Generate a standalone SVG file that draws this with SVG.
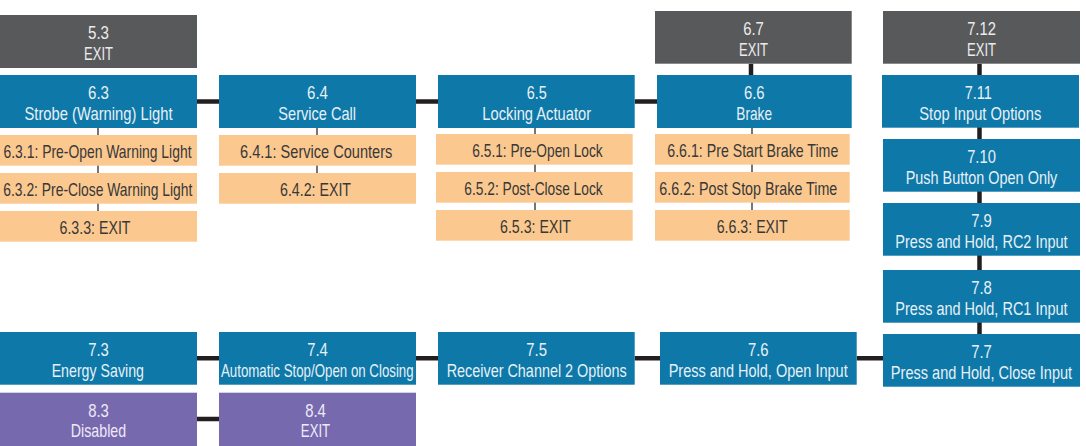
<svg xmlns="http://www.w3.org/2000/svg" width="1086" height="446" viewBox="0 0 1086 446">
<style>
.g{fill:#58595b}.b{fill:#0e78a8}.p{fill:#fbc98f}.v{fill:#7769ae}
text{font-family:"Liberation Sans",Arial,sans-serif;font-size:19px;text-anchor:middle}
.tg{fill:#ececec}.tb{fill:#e6f1f7}.tp{fill:#383838}.tv{fill:#efeaf6}
.k{stroke:#231f20;stroke-width:4.5;fill:none}
.t{stroke:#4a4a4a;stroke-width:1.5;fill:none}
</style>
<rect width="1086" height="446" fill="#ffffff"/>
<g id="connectors">
<path class="k" d="M197 101.5H219M416 101.5H438M634.7 101.5H657M751 63.7V75"/>
<path class="k" d="M979.5 63.7V334M856.7 358.3H883M634.7 358.3H660M416 358.3H438M197 358.3H219M197 419H219"/>
<path class="t" d="M98 128V211M317 128V173M535 128V210M752 128V210"/>
</g>
<g id="n5_3"><rect class="g" x="0" y="15" width="197" height="53"/><text class="tg" x="98.5" y="39" textLength="21" lengthAdjust="spacingAndGlyphs">5.3</text><text class="tg" x="98.5" y="60" textLength="29" lengthAdjust="spacingAndGlyphs">EXIT</text></g>
<g id="n6_3"><rect class="b" x="0" y="75" width="197" height="53"/><text class="tb" x="98.5" y="99" textLength="21" lengthAdjust="spacingAndGlyphs">6.3</text><text class="tb" x="98.5" y="119.5" textLength="148" lengthAdjust="spacingAndGlyphs">Strobe (Warning) Light</text></g>
<g id="n6_3_1"><rect class="p" x="0" y="135" width="197" height="30.7"/><text class="tp" x="97.5" y="157.7" textLength="188" lengthAdjust="spacingAndGlyphs">6.3.1: Pre-Open Warning Light</text></g>
<g id="n6_3_2"><rect class="p" x="0" y="173" width="197" height="30.7"/><text class="tp" x="97.8" y="195.7" textLength="189" lengthAdjust="spacingAndGlyphs">6.3.2: Pre-Close Warning Light</text></g>
<g id="n6_3_3"><rect class="p" x="0" y="211" width="197" height="30.7"/><text class="tp" x="95" y="233.7" textLength="71" lengthAdjust="spacingAndGlyphs">6.3.3: EXIT</text></g>
<g id="n6_4"><rect class="b" x="219" y="75" width="197" height="53"/><text class="tb" x="317.5" y="99" textLength="21" lengthAdjust="spacingAndGlyphs">6.4</text><text class="tb" x="317.2" y="119.5" textLength="77.7" lengthAdjust="spacingAndGlyphs">Service Call</text></g>
<g id="n6_4_1"><rect class="p" x="219" y="135" width="197" height="30.7"/><text class="tp" x="316.2" y="157.7" textLength="152.3" lengthAdjust="spacingAndGlyphs">6.4.1: Service Counters</text></g>
<g id="n6_4_2"><rect class="p" x="219" y="173" width="197" height="30.7"/><text class="tp" x="315.5" y="195.7" textLength="71" lengthAdjust="spacingAndGlyphs">6.4.2: EXIT</text></g>
<g id="n6_5"><rect class="b" x="438" y="75" width="196.7" height="53"/><text class="tb" x="536.7" y="99" textLength="20" lengthAdjust="spacingAndGlyphs">6.5</text><text class="tb" x="536.7" y="119.5" textLength="108.7" lengthAdjust="spacingAndGlyphs">Locking Actuator</text></g>
<g id="n6_5_1"><rect class="p" x="436" y="134" width="196.7" height="30.7"/><text class="tp" x="537.5" y="157" textLength="130.3" lengthAdjust="spacingAndGlyphs">6.5.1: Pre-Open Lock</text></g>
<g id="n6_5_2"><rect class="p" x="436" y="172" width="196.7" height="30.7"/><text class="tp" x="533.5" y="195" textLength="138.3" lengthAdjust="spacingAndGlyphs">6.5.2: Post-Close Lock</text></g>
<g id="n6_5_3"><rect class="p" x="436" y="210" width="196.7" height="30.7"/><text class="tp" x="535.5" y="233" textLength="71" lengthAdjust="spacingAndGlyphs">6.5.3: EXIT</text></g>
<g id="n6_7"><rect class="g" x="655" y="11" width="196.7" height="52.7"/><text class="tg" x="753.5" y="35" textLength="20.7" lengthAdjust="spacingAndGlyphs">6.7</text><text class="tg" x="753.5" y="56" textLength="29" lengthAdjust="spacingAndGlyphs">EXIT</text></g>
<g id="n6_6"><rect class="b" x="657" y="75" width="194.7" height="53"/><text class="tb" x="754.3" y="99" textLength="20.7" lengthAdjust="spacingAndGlyphs">6.6</text><text class="tb" x="754.2" y="119.5" textLength="35.7" lengthAdjust="spacingAndGlyphs">Brake</text></g>
<g id="n6_6_1"><rect class="p" x="655" y="134" width="194.7" height="30.7"/><text class="tp" x="752.8" y="157" textLength="171" lengthAdjust="spacingAndGlyphs">6.6.1: Pre Start Brake Time</text></g>
<g id="n6_6_2"><rect class="p" x="655" y="172" width="194.7" height="30.7"/><text class="tp" x="748.3" y="195" textLength="178" lengthAdjust="spacingAndGlyphs">6.6.2: Post Stop Brake Time</text></g>
<g id="n6_6_3"><rect class="p" x="655" y="210" width="194.7" height="30.7"/><text class="tp" x="752.2" y="233" textLength="71" lengthAdjust="spacingAndGlyphs">6.6.3: EXIT</text></g>
<g id="n7_12"><rect class="g" x="883" y="11" width="197" height="52.7"/><text class="tg" x="981.5" y="35" textLength="28.7" lengthAdjust="spacingAndGlyphs">7.12</text><text class="tg" x="981.5" y="56" textLength="29" lengthAdjust="spacingAndGlyphs">EXIT</text></g>
<g id="n7_11"><rect class="b" x="882" y="75" width="197" height="52.7"/><text class="tb" x="978.3" y="99" textLength="27.3" lengthAdjust="spacingAndGlyphs">7.11</text><text class="tb" x="980.3" y="119.5" textLength="122" lengthAdjust="spacingAndGlyphs">Stop Input Options</text></g>
<g id="n7_10"><rect class="b" x="883" y="139" width="197" height="52.7"/><text class="tb" x="981.5" y="163" textLength="28.7" lengthAdjust="spacingAndGlyphs">7.10</text><text class="tb" x="981.5" y="183.5" textLength="151.7" lengthAdjust="spacingAndGlyphs">Push Button Open Only</text></g>
<g id="n7_9"><rect class="b" x="883" y="203" width="197" height="52.7"/><text class="tb" x="981.5" y="227" textLength="20.7" lengthAdjust="spacingAndGlyphs">7.9</text><text class="tb" x="981.5" y="247.5" textLength="172.3" lengthAdjust="spacingAndGlyphs">Press and Hold, RC2 Input</text></g>
<g id="n7_8"><rect class="b" x="883" y="270" width="197" height="52.7"/><text class="tb" x="981.5" y="294" textLength="20.7" lengthAdjust="spacingAndGlyphs">7.8</text><text class="tb" x="981.5" y="314.5" textLength="172.3" lengthAdjust="spacingAndGlyphs">Press and Hold, RC1 Input</text></g>
<g id="n7_7"><rect class="b" x="883" y="334" width="197" height="52.7"/><text class="tb" x="981.5" y="358" textLength="20.7" lengthAdjust="spacingAndGlyphs">7.7</text><text class="tb" x="981.5" y="378.5" textLength="181.3" lengthAdjust="spacingAndGlyphs">Press and Hold, Close Input</text></g>
<g id="n7_6"><rect class="b" x="660" y="332" width="196.7" height="52.7"/><text class="tb" x="758.3" y="356" textLength="20.7" lengthAdjust="spacingAndGlyphs">7.6</text><text class="tb" x="758.2" y="376.5" textLength="179" lengthAdjust="spacingAndGlyphs">Press and Hold, Open Input</text></g>
<g id="n7_5"><rect class="b" x="438" y="332" width="196.7" height="52.7"/><text class="tb" x="536.7" y="356" textLength="20.7" lengthAdjust="spacingAndGlyphs">7.5</text><text class="tb" x="536.7" y="376.5" textLength="180" lengthAdjust="spacingAndGlyphs">Receiver Channel 2 Options</text></g>
<g id="n7_4"><rect class="b" x="219" y="332" width="197" height="52.7"/><text class="tb" x="317.5" y="356" textLength="20.7" lengthAdjust="spacingAndGlyphs">7.4</text><text class="tb" x="317.3" y="376.5" textLength="192.7" lengthAdjust="spacingAndGlyphs">Automatic Stop/Open on Closing</text></g>
<g id="n7_3"><rect class="b" x="0" y="332" width="197" height="52.7"/><text class="tb" x="98.5" y="356" textLength="20.7" lengthAdjust="spacingAndGlyphs">7.3</text><text class="tb" x="97.8" y="376.5" textLength="92.3" lengthAdjust="spacingAndGlyphs">Energy Saving</text></g>
<g id="n8_3"><rect class="v" x="0" y="392.7" width="197" height="53.3"/><text class="tv" x="98.5" y="416.7" textLength="20.7" lengthAdjust="spacingAndGlyphs">8.3</text><text class="tv" x="98.5" y="437" textLength="55.3" lengthAdjust="spacingAndGlyphs">Disabled</text></g>
<g id="n8_4"><rect class="v" x="219" y="392.7" width="197" height="53.3"/><text class="tv" x="315.5" y="416.7" textLength="20.7" lengthAdjust="spacingAndGlyphs">8.4</text><text class="tv" x="315.5" y="437" textLength="29.3" lengthAdjust="spacingAndGlyphs">EXIT</text></g>
</svg>
